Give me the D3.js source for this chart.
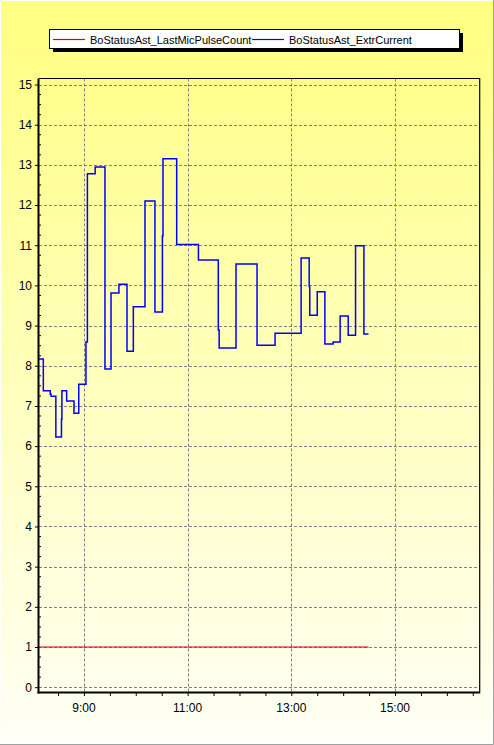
<!DOCTYPE html>
<html>
<head>
<meta charset="utf-8">
<script src="https://cdn.jsdelivr.net/npm/d3@7"></script>
<style>
  body { margin: 0; background: #fff; }
  svg { display: block; font-family: 'Liberation Sans', Arial, sans-serif; }
</style>
</head>
<body>
<div id="dataviz"></div>
<script>
const width = 494,
height = 745,
plot = {
  left: 39,
  right: 479.7,
  top: 78.5,
  bottom: 692 };


const seriesNames = ['BoStatusAst_LastMicPulseCount', 'BoStatusAst_ExtrCurrent'];
const seriesColors = ['#e00000', '#0000ff'];

// LastMicPulseCount
const pulseTimes = ['08:08:00', '14:29:20'];
const pulseValues = [1, 1];

// ExtrCurrent (step data, value holds until next time)
const currentTimes = ['08:08:00', '08:13:00', '08:21:00', '08:22:00', '08:27:30', '08:34:00', '08:34:30',
'08:40:00', '08:48:30', '08:54:00', '09:02:20', '09:04:00', '09:13:00', '09:24:20', '09:31:20', '09:40:30',
'09:49:50', '09:57:10', '10:10:40', '10:22:10', '10:30:50', '10:31:30', '10:47:20', '11:12:30', '11:35:30',
'11:36:30', '11:56:00', '12:20:20', '12:41:10', '13:11:20', '13:20:40', '13:21:20', '13:30:00', '13:38:50',
'13:48:20', '13:56:30', '14:05:50', '14:14:20', '14:24:00', '14:29:20'];
const currentValues = [8.17, 7.38, 7.29, 7.24, 6.23, 6.67, 7.38,
7.12, 6.82, 7.54, 8.59, 12.78, 12.95, 7.92, 9.81, 10.03,
8.36, 9.47, 12.10, 9.34, 11.23, 13.15, 11.02, 10.63, 8.89,
8.44, 10.53, 8.51, 8.81, 10.68, 9.97, 9.26, 9.84, 8.54,
8.59, 9.24, 8.76, 10.99, 8.79, 8.79];

const timeDomain = ['08:08:00', '16:38:00'];
const valueDomain = [-0.12, 15.15];
const xTickLabels = ['9:00', '11:00', '13:00', '15:00'];

const parseTime = d3.timeParse('%H:%M:%S');

const x = d3.scaleTime().
domain(timeDomain.map(parseTime)).
range([plot.left, plot.right]);

const y = d3.scaleLinear().
domain(valueDomain).
range([plot.bottom, plot.top]);

const svg = d3.select('#dataviz').
append('svg').
attr('width', width).
attr('height', height);

const grad = svg.append('defs').
append('linearGradient').
attr('id', 'bg').
attr('x1', 0).attr('y1', 0).attr('x2', 0).attr('y2', 1);
grad.append('stop').attr('offset', '0%').attr('stop-color', '#ffff80');
grad.append('stop').attr('offset', '100%').attr('stop-color', '#fffff6');

svg.append('rect').
attr('width', width).
attr('height', height).
attr('fill', 'url(#bg)');

// window-like frame
svg.append('path').
attr('d', `M0.5,${height} V0.5 H${width}`).
attr('fill', 'none').
attr('stroke', '#ffffff');
svg.append('path').
attr('d', `M0,${height - 0.5} H${width - 0.5} V0`).
attr('fill', 'none').
attr('stroke', '#a0a0a0');

// grid
const yMajor = d3.range(0, 16);
const xMajor = xTickLabels.map(d => parseTime((d.length < 5 ? '0' + d : d) + ':00'));

svg.append('g').
selectAll('line').
data(yMajor).
enter().
append('line').
attr('x1', plot.left).
attr('x2', plot.right).
attr('y1', d => Math.round(y(d)) + 0.5).
attr('y2', d => Math.round(y(d)) + 0.5).
attr('stroke', '#808080').
attr('stroke-dasharray', '3,2');

svg.append('g').
selectAll('line').
data(xMajor).
enter().
append('line').
attr('x1', d => Math.round(x(d)) + 0.5).
attr('x2', d => Math.round(x(d)) + 0.5).
attr('y1', plot.top).
attr('y2', plot.bottom).
attr('stroke', '#808080').
attr('stroke-dasharray', '3,2');

// plot frame (top and right thin)
svg.append('path').
attr('d', `M${plot.left},${plot.top} H${plot.right} V${plot.bottom}`).
attr('fill', 'none').
attr('stroke', '#000').
attr('stroke-width', 1.2);

// series
const line = d3.line().
x(d => x(d.t)).
y(d => y(d.v)).
curve(d3.curveStepAfter);

const pulse = pulseTimes.map((t, i) => ({ t: parseTime(t), v: pulseValues[i] }));
const current = currentTimes.map((t, i) => ({ t: parseTime(t), v: currentValues[i] }));

svg.append('path').
datum(pulse).
attr('d', line).
attr('fill', 'none').
attr('stroke', seriesColors[0]).
attr('stroke-width', 1.2);

svg.append('path').
datum(current).
attr('d', line).
attr('fill', 'none').
attr('stroke', seriesColors[1]).
attr('stroke-width', 1.5);

// axes
const yAxis = d3.axisLeft(y).
tickValues(yMajor).
tickSize(4).
tickPadding(3).
tickFormat(d3.format('d'));

const yAxisG = svg.append('g').
attr('transform', `translate(${plot.left},0)`).
call(yAxis);
yAxisG.select('.domain').remove();

// minor y ticks every 0.25
svg.append('g').
selectAll('line').
data(d3.range(0, 15.01, 0.25).filter(d => d % 1 !== 0)).
enter().
append('line').
attr('x1', plot.left).
attr('x2', plot.left + 2).
attr('y1', d => y(d)).
attr('y2', d => y(d)).
attr('stroke', '#000');

const xAxis = d3.axisBottom(x).
ticks(d3.timeMinute.every(30)).
tickSize(4).
tickFormat('');

svg.append('g').
attr('transform', `translate(0,${plot.bottom})`).
call(xAxis).
select('.domain').remove();

svg.append('g').
selectAll('text').
data(xMajor).
enter().
append('text').
attr('x', d => x(d)).
attr('y', 712).
attr('text-anchor', 'middle').
attr('font-size', '12px').
attr('fill', '#000').
text((d, i) => xTickLabels[i]);

svg.selectAll('.tick text').
attr('font-size', '12px').
attr('font-family', "'Liberation Sans', Arial, sans-serif").
attr('fill', '#000');
svg.selectAll('.tick line').attr('stroke', '#000');

// thick left and bottom axis lines
svg.append('line').
attr('x1', plot.left - 0.5).
attr('x2', plot.left - 0.5).
attr('y1', plot.top).
attr('y2', plot.bottom + 1.5).
attr('stroke', '#000').
attr('stroke-width', 2);

svg.append('line').
attr('x1', plot.left - 1.5).
attr('x2', plot.right + 0.5).
attr('y1', plot.bottom + 0.5).
attr('y2', plot.bottom + 0.5).
attr('stroke', '#000').
attr('stroke-width', 2);

// legend
const legend = svg.append('g').
attr('id', 'legend');

legend.append('rect').
attr('x', 53).
attr('y', 33).
attr('width', 410).
attr('height', 19).
attr('fill', '#000');

legend.append('rect').
attr('x', 49.5).
attr('y', 29.5).
attr('width', 410).
attr('height', 19).
attr('fill', '#fff').
attr('stroke', '#000');

const legendX = [53, 252];
legend.selectAll('line.key').
data(seriesNames).
enter().
append('line').
attr('class', 'key').
attr('x1', (d, i) => legendX[i]).
attr('x2', (d, i) => legendX[i] + 32).
attr('y1', 39.5).
attr('y2', 39.5).
attr('stroke-width', 1.2).
attr('stroke', (d, i) => seriesColors[i]);

legend.selectAll('text').
data(seriesNames).
enter().
append('text').
attr('x', (d, i) => legendX[i] + 37).
attr('y', 43.5).
attr('font-size', '11px').
attr('fill', '#000').
text(d => d);
</script>
</body>
</html>
